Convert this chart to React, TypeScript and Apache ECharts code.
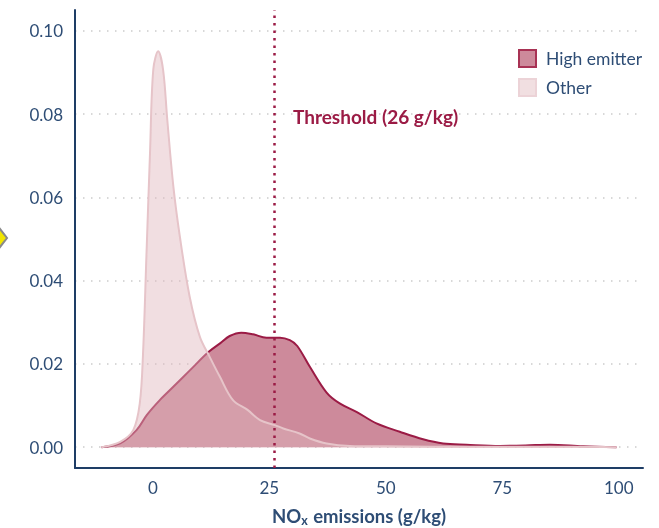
import React, { useEffect, useRef } from "react";
import * as echarts from "echarts";

const seriesNames = ["High emitter", "Other"];
const xTicks = [0, 25, 50, 75, 100];
const yTicks = [0, 0.02, 0.04, 0.06, 0.08, 0.1];
const thresholdValue = 26;
const thresholdLabel = "Threshold (26 g/kg)";

const highX = [-11, -7, -3.5, -1.3, 1.5, 4.4, 8, 12, 14.5, 16.5, 19, 21.5, 24.4, 27.3, 29.4, 31, 33.7, 37.3, 40.1, 43.7, 48, 53, 58, 62.3, 67.3, 74.5, 80, 85.2, 92.3, 99.5];
const highY = [0, 0.0009, 0.0041, 0.0077, 0.0113, 0.0145, 0.0185, 0.0229, 0.025, 0.0267, 0.0275, 0.0271, 0.0263, 0.0263, 0.0257, 0.0243, 0.0193, 0.0131, 0.0105, 0.0085, 0.0057, 0.0037, 0.0019, 0.0009, 0.0006, 0.0003, 0.0004, 0.0006, 0.0002, 0];

const otherX = [-11, -7, -4.2, -2.8, -2.1, -1.35, -0.6, 0.1, 1.15, 2.2, 3.1, 4.4, 5.8, 7.9, 10.1, 12.2, 14.4, 17.2, 20.4, 23, 26.2, 28, 31.5, 33.7, 37.3, 42.3, 50, 60, 75, 90, 99.5];
const otherY = [0, 0.0013, 0.0041, 0.0105, 0.0225, 0.0467, 0.0707, 0.0907, 0.0951, 0.0907, 0.0787, 0.0627, 0.0506, 0.0362, 0.0265, 0.0217, 0.0169, 0.0113, 0.0089, 0.0065, 0.0053, 0.0045, 0.0033, 0.0021, 0.0009, 0.0003, 0.0002, 0.0001, 0.0001, 0.0001, 0];

const NAVY = "#2e4d75";
const AXIS = "#1e3d66";
const CRIMSON = "#9b1b45";
const FONT = "Lato";

export default function App() {
  const ref = useRef<HTMLDivElement>(null);
  useEffect(() => {
    if (!ref.current) return;
    const chart = echarts.init(ref.current, null, { renderer: "svg" });
    const highData = highX.map((x, i) => [x, highY[i]]);
    const otherData = otherX.map((x, i) => [x, otherY[i]]);
    chart.setOption({
      animation: false,
      textStyle: { fontFamily: FONT },
      grid: { left: 75, right: 16, top: 10, bottom: 60, containLabel: false, outerBoundsMode: "none" },
      legend: {
        orient: "vertical",
        left: 513,
        top: 44,
        itemWidth: 17,
        itemHeight: 17,
        itemGap: 10,
        icon: "rect",
        textStyle: { color: NAVY, fontSize: 17.5, fontFamily: FONT, padding: [0, 0, 0, 5] },
        data: [
          { name: seriesNames[0], itemStyle: { color: "#cd8a9b", borderColor: "#a83254", borderWidth: 2 } },
          { name: seriesNames[1], itemStyle: { color: "#f1dfe1", borderColor: "#ecd3d7", borderWidth: 2 } },
        ],
      },
      xAxis: {
        type: "value",
        min: -16.7,
        max: 105.2,
        minInterval: 25,
        maxInterval: 25,
        axisLine: { show: true, onZero: false, lineStyle: { color: AXIS, width: 2 } },
        axisTick: { show: false },
        splitLine: { show: false },
        axisLabel: {
          showMinLabel: false,
          showMaxLabel: false,
          color: NAVY,
          fontSize: 17,
          fontFamily: FONT,
          margin: 11,
          formatter: (v: number) => (xTicks.includes(v) ? String(v) : ""),
        },
        name: "{b|NO}{s|x}{b| emissions (g/kg)}",
        nameLocation: "middle",
        nameGap: 37,
        nameTextStyle: {
          rich: {
            b: { fontSize: 18.5, fontWeight: "bold", color: NAVY, fontFamily: FONT, lineHeight: 22, verticalAlign: "middle" },
            s: { fontSize: 12.5, fontWeight: "bold", color: NAVY, fontFamily: FONT, lineHeight: 22, verticalAlign: "bottom", padding: [0, 1, 0, 0] },
          },
        },
      },
      yAxis: {
        type: "value",
        min: -0.005,
        max: 0.105,
        minInterval: 0.02,
        maxInterval: 0.02,
        axisLine: { show: true, onZero: false, lineStyle: { color: AXIS, width: 2 } },
        axisTick: { show: false },
        splitLine: {
          show: true,
          showMinLine: false,
          showMaxLine: false,
          lineStyle: { color: "#cccccc", width: 1.5, type: [1.5, 6.5] },
        },
        axisLabel: {
          showMinLabel: false,
          showMaxLabel: false,
          color: NAVY,
          fontSize: 17,
          fontFamily: FONT,
          margin: 12,
          formatter: (v: number) => {
            const t = yTicks.find((y) => Math.abs(y - v) < 1e-9);
            return t === undefined ? "" : t.toFixed(2);
          },
        },
      },
      series: [
        {
          name: seriesNames[0],
          type: "line",
          data: highData,
          smooth: 0.35,
          showSymbol: false,
          z: 2,
          lineStyle: { color: CRIMSON, width: 2 },
          itemStyle: { color: "#cd8a9b" },
          areaStyle: { color: "#cd8a9b", opacity: 1 },
          markLine: {
            silent: true,
            symbol: ["none", "none"],
            label: { show: false },
            lineStyle: { color: CRIMSON, width: 2.5, type: [2.5, 5] },
            data: [{ xAxis: thresholdValue }],
          },
          markPoint: {
            silent: true,
            symbol: "circle",
            symbolSize: 0,
            data: [{ coord: [thresholdValue, 0.0794] }],
            label: {
              show: true,
              position: "right",
              distance: 19,
              formatter: thresholdLabel,
              color: CRIMSON,
              fontWeight: "bold",
              fontSize: 19,
              fontFamily: FONT,
            },
          },
        },
        {
          name: seriesNames[1],
          type: "line",
          data: otherData,
          smooth: 0.35,
          showSymbol: false,
          z: 3,
          lineStyle: { color: "#e6c4c9", width: 2 },
          itemStyle: { color: "#f1dfe1" },
          areaStyle: { color: "rgba(224,182,189,0.45)", opacity: 1 },
        },
      ],
      graphic: [
        {
          type: "polygon",
          shape: { points: [[-7, 238], [0, 229], [7, 238], [0, 247]] },
          style: { fill: "#f2e600", stroke: "#8a8a8a", lineWidth: 2 },
        },
      ],
    });
    return () => chart.dispose();
  }, []);
  return <div ref={ref} style={{ position: "fixed", left: 0, top: 0, width: 659, height: 528 }} />;
}
